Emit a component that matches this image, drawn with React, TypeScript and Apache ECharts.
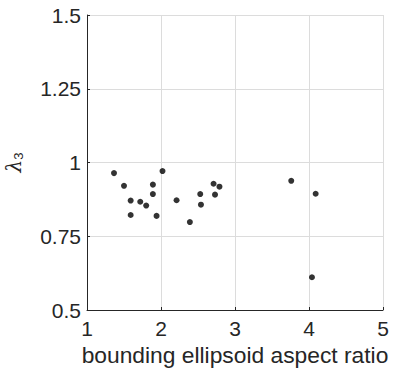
import React, { useEffect, useRef } from "react";
import * as echarts from "echarts";

const aspectRatio = [1.365, 1.5, 1.59, 1.59, 1.72, 1.8, 1.89, 1.89, 1.94, 2.02, 2.21, 2.39, 2.53, 2.54, 2.71, 2.73, 2.79, 3.76, 4.09, 4.04];
const lambda3 = [0.964, 0.921, 0.871, 0.822, 0.867, 0.854, 0.925, 0.893, 0.819, 0.971, 0.872, 0.798, 0.893, 0.857, 0.928, 0.891, 0.918, 0.938, 0.894, 0.611];
const xTicks = [1, 2, 3, 4, 5];
const yTicks = [0.5, 0.75, 1, 1.25, 1.5];

export default function App() {
  const ref = useRef<HTMLDivElement>(null);
  useEffect(() => {
    document.body.style.margin = "0";
    if (!ref.current) return;
    const chart = echarts.init(ref.current, null, { renderer: "svg" });
    const font = "'Liberation Sans', Arial, Helvetica, sans-serif";
    const text = "#262626";
    chart.setOption({
      animation: false,
      grid: { left: 87, top: 15, width: 296, height: 295, containLabel: false, outerBoundsMode: "none" },
      xAxis: {
        type: "value",
        min: 1,
        max: 5,
        interval: 1,
        name: "bounding ellipsoid aspect ratio",
        nameLocation: "middle",
        nameGap: 30,
        nameTextStyle: { fontFamily: font, fontSize: 22.8, color: text },
        axisLine: { show: true, onZero: false, lineStyle: { color: "#262626", width: 1 } },
        axisTick: { show: true, inside: true, length: 3, lineStyle: { color: "#262626" } },
        axisLabel: { fontFamily: font, fontSize: 21, color: text, margin: 8, formatter: (v: number) => (xTicks.includes(v) ? String(v) : "") },
        splitLine: { show: true, lineStyle: { color: "#dcdcdc", width: 1 } },
      },
      yAxis: {
        type: "value",
        min: 0.5,
        max: 1.5,
        interval: 0.25,
        name: "{l|λ}{s|3}",
        nameLocation: "middle",
        nameGap: 62,
        nameRotate: 90,
        nameTextStyle: {
          fontFamily: font,
          color: text,
          rich: {
            l: { fontFamily: "'DejaVu Serif', serif", fontStyle: "italic", fontSize: 20, color: text },
            s: { fontFamily: font, fontSize: 13, color: text, verticalAlign: "bottom", padding: [9, 0, 0, 0] },
          },
        },
        axisLine: { show: true, onZero: false, lineStyle: { color: "#262626", width: 1 } },
        axisTick: { show: true, inside: true, length: 3, lineStyle: { color: "#262626" } },
        axisLabel: {
          fontFamily: font,
          fontSize: 21,
          color: text,
          margin: 6,
          formatter: (v: number) => {
            const t = yTicks.find((y) => Math.abs(y - v) < 1e-9);
            return t === undefined ? "" : String(t);
          },
        },
        splitLine: { show: true, lineStyle: { color: "#dcdcdc", width: 1 } },
      },
      series: [
        {
          type: "scatter",
          data: aspectRatio.map((x, i) => [x, lambda3[i]]),
          symbol: "circle",
          symbolSize: 6,
          itemStyle: { color: "#000" },
        },
      ],
    });
    return () => chart.dispose();
  }, []);
  return <div ref={ref} style={{ width: 394, height: 374 }} />;
}
